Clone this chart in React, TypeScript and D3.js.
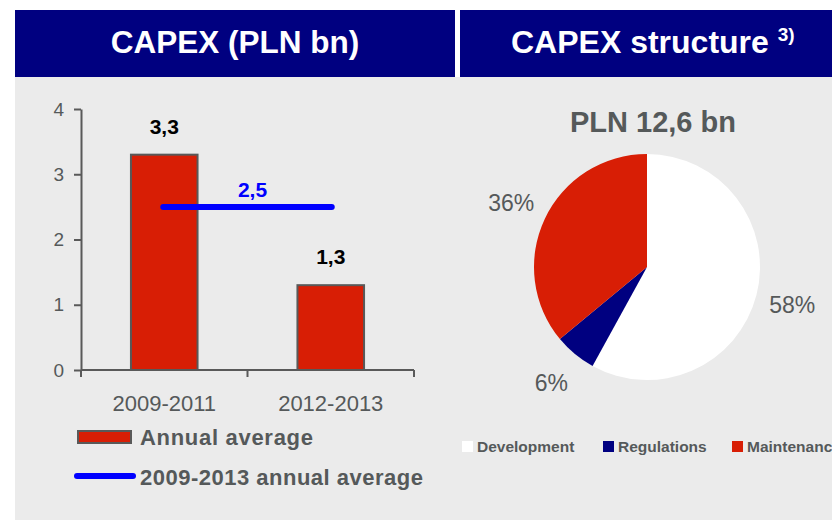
import React, { useRef, useEffect } from 'react';
import * as d3 from 'd3';

// Left chart: CAPEX annual average per period (PLN bn)
const PERIODS = ['2009-2011', '2012-2013'];
const ANNUAL_AVG = [3.3, 1.3];
const OVERALL_AVG = 2.5;
const Y_TICKS = [0, 1, 2, 3, 4];

// Right chart: CAPEX structure
const SEGMENTS = ['Development', 'Regulations', 'Maintenance'];
const SHARES = [58, 6, 36];
const PIE_TOTAL = 'PLN 12,6 bn';

const NAVY = '#000080';
const RED = '#d81e05';
const GREY_TEXT = '#55595a';
const BG = '#ebebeb';
const FONT = '"Liberation Sans", Arial, sans-serif';

const fmt = (v: number) => v.toFixed(1).replace('.', ',');

export default function App() {
  const svgRef = useRef<SVGSVGElement>(null);

  useEffect(() => {
    const width = 832;
    const height = 520;
    const svg = d3.select(svgRef.current).attr('width', width).attr('height', height);
    svg.selectAll('*').remove();
    svg.style('font-family', FONT);

    // backgrounds and headers
    svg.append('rect').attr('x', 15).attr('y', 77).attr('width', width - 15).attr('height', height - 77).attr('fill', BG);
    svg.append('rect').attr('x', 15).attr('y', 10).attr('width', 440).attr('height', 67).attr('fill', NAVY);
    svg.append('rect').attr('x', 460).attr('y', 10).attr('width', width - 460).attr('height', 67).attr('fill', NAVY);

    svg.append('text')
      .attr('x', 235).attr('y', 53)
      .attr('text-anchor', 'middle')
      .attr('fill', '#fff').attr('font-size', 31.5).attr('font-weight', 'bold')
      .text('CAPEX (PLN bn)');

    const t2 = svg.append('text')
      .attr('x', 511).attr('y', 53)
      .attr('fill', '#fff').attr('font-size', 32).attr('font-weight', 'bold');
    t2.append('tspan').text('CAPEX structure ');
    t2.append('tspan').attr('font-size', 19).attr('dy', -12).text('3)');

    // ---- bar chart ----
    const slot = d3.scaleBand().domain(PERIODS).range([81, 414]).padding(0);
    const barW = slot.bandwidth() * 0.4;
    const y = d3.scaleLinear().domain([0, 4]).range([370, 109]);

    const g = svg.append('g');

    g.selectAll('rect.bar')
      .data(PERIODS)
      .join('rect')
      .attr('class', 'bar')
      .attr('x', (d) => slot(d)! + slot.bandwidth() / 2 - barW / 2)
      .attr('y', (d, i) => y(ANNUAL_AVG[i]))
      .attr('width', barW)
      .attr('height', (d, i) => y(0) - y(ANNUAL_AVG[i]))
      .attr('fill', RED)
      .attr('stroke', '#595959')
      .attr('stroke-width', 2);

    // y axis
    const yAxis = g.append('g')
      .attr('transform', 'translate(81,0)')
      .call(d3.axisLeft(y).tickValues(Y_TICKS).tickSize(7).tickSizeOuter(0).tickPadding(10).tickFormat(d3.format('d')));
    yAxis.selectAll('path, line').attr('stroke', '#595959').attr('stroke-width', 2);
    yAxis.selectAll('text').attr('fill', GREY_TEXT).attr('font-size', 19).attr('font-family', FONT);

    // x axis
    const [x0, x1] = slot.range();
    g.append('line').attr('x1', x0).attr('x2', x1).attr('y1', y(0)).attr('y2', y(0))
      .attr('stroke', '#595959').attr('stroke-width', 2);
    const bounds = PERIODS.map((d) => slot(d)!).concat([x1]);
    g.selectAll('line.xt').data(bounds).join('line').attr('class', 'xt')
      .attr('x1', (d) => d).attr('x2', (d) => d)
      .attr('y1', y(0)).attr('y2', y(0) + 7)
      .attr('stroke', '#595959').attr('stroke-width', 2);
    g.selectAll('text.xl').data(PERIODS).join('text').attr('class', 'xl')
      .attr('x', (d) => slot(d)! + slot.bandwidth() / 2)
      .attr('y', 411)
      .attr('text-anchor', 'middle')
      .attr('fill', GREY_TEXT).attr('font-size', 22)
      .text((d) => d);

    // value labels
    g.selectAll('text.val').data(PERIODS).join('text').attr('class', 'val')
      .attr('x', (d) => slot(d)! + slot.bandwidth() / 2)
      .attr('y', (d, i) => y(ANNUAL_AVG[i]) - 21)
      .attr('text-anchor', 'middle')
      .attr('fill', '#000').attr('font-size', 21).attr('font-weight', 'bold')
      .text((d, i) => fmt(ANNUAL_AVG[i]));

    // overall average line
    const cx0 = slot(PERIODS[0])! + slot.bandwidth() / 2;
    const cx1 = slot(PERIODS[1])! + slot.bandwidth() / 2;
    g.append('line')
      .attr('x1', cx0 - 1).attr('x2', cx1 + 1)
      .attr('y1', y(OVERALL_AVG)).attr('y2', y(OVERALL_AVG))
      .attr('stroke', '#0000ff').attr('stroke-width', 6).attr('stroke-linecap', 'round');
    g.append('text')
      .attr('x', (cx0 + cx1) / 2 + 5).attr('y', y(OVERALL_AVG) - 10)
      .attr('text-anchor', 'middle')
      .attr('fill', '#0000ff').attr('font-size', 21).attr('font-weight', 'bold')
      .text(fmt(OVERALL_AVG));

    // left legend
    const lg = svg.append('g');
    lg.append('rect').attr('x', 78).attr('y', 431).attr('width', 53).attr('height', 12)
      .attr('fill', RED).attr('stroke', '#595959').attr('stroke-width', 2);
    lg.append('text').attr('x', 140).attr('y', 445)
      .attr('fill', GREY_TEXT).attr('font-size', 22).attr('font-weight', 'bold').attr('letter-spacing', 0.7)
      .text('Annual average');
    lg.append('line').attr('x1', 77).attr('x2', 133).attr('y1', 476).attr('y2', 476)
      .attr('stroke', '#0000ff').attr('stroke-width', 6).attr('stroke-linecap', 'round');
    lg.append('text').attr('x', 140).attr('y', 485)
      .attr('fill', GREY_TEXT).attr('font-size', 22).attr('font-weight', 'bold').attr('letter-spacing', 0.5)
      .text('2009-2013 annual average');

    // ---- pie chart ----
    const pcx = 647;
    const pcy = 267;
    const r = 113;
    const colors = d3.scaleOrdinal<string, string>().domain(SEGMENTS).range(['#ffffff', NAVY, RED]);
    const pieData = d3.pie<number>().sort(null).value((d) => d)(SHARES);
    const arc = d3.arc<d3.PieArcDatum<number>>().innerRadius(0).outerRadius(r);
    const labelArc = d3.arc<d3.PieArcDatum<number>>().innerRadius(150).outerRadius(150);

    const pg = svg.append('g').attr('transform', `translate(${pcx},${pcy})`);
    pg.selectAll('path').data(pieData).join('path')
      .attr('d', arc)
      .attr('fill', (d, i) => colors(SEGMENTS[i]));
    pg.selectAll('text').data(pieData).join('text')
      .attr('transform', (d) => `translate(${labelArc.centroid(d)})`)
      .attr('text-anchor', 'middle')
      .attr('dy', '0.36em')
      .attr('fill', GREY_TEXT).attr('font-size', 23)
      .text((d) => `${d.data}%`);

    svg.append('text')
      .attr('x', 653).attr('y', 132)
      .attr('text-anchor', 'middle')
      .attr('fill', GREY_TEXT).attr('font-size', 29).attr('font-weight', 'bold')
      .text(PIE_TOTAL);

    // right legend (last entry runs past the right edge, as in the source)
    const legendX = [462, 603, 732];
    const rl = svg.append('g');
    rl.selectAll('rect').data(SEGMENTS).join('rect')
      .attr('x', (d, i) => legendX[i]).attr('y', 441)
      .attr('width', 11).attr('height', 11)
      .attr('fill', (d) => colors(d));
    rl.selectAll('text').data(SEGMENTS).join('text')
      .attr('x', (d, i) => legendX[i] + 15).attr('y', 452)
      .attr('fill', GREY_TEXT).attr('font-size', 15.5).attr('font-weight', 'bold')
      .text((d) => d);
  }, []);

  return (
    <svg ref={svgRef} style={{ position: 'absolute', left: 0, top: 0, display: 'block' }} />
  );
}
